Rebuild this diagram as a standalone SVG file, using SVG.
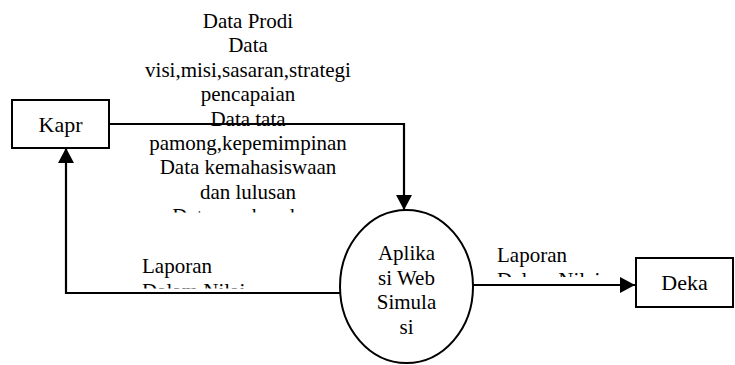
<svg xmlns="http://www.w3.org/2000/svg" width="735" height="365" viewBox="0 0 735 365">
<style>
text{font-family:'Liberation Serif','DejaVu Serif','Noto Serif',serif;fill:#000}
.lbl{font-size:21px;text-anchor:middle}
.lbl-l{font-size:21px}
.box{fill:#fff;stroke:#000;stroke-width:2}
.name{font-size:22px;text-anchor:middle}
.conn{fill:none;stroke:#000;stroke-width:2.2}
</style>
<defs>
<marker id="arr" markerUnits="userSpaceOnUse" markerWidth="16" markerHeight="16" refX="15" refY="8" orient="auto">
<path d="M0,0 L15,8 L0,16 z" fill="#000"/>
</marker>
<clipPath id="clipTop"><rect x="100" y="0" width="320" height="212.5"/></clipPath>
<clipPath id="clipL"><rect x="120" y="240" width="160" height="48.5"/></clipPath>
<clipPath id="clipR"><rect x="480" y="230" width="140" height="47"/></clipPath>
</defs>
<g id="connectors">
<polyline class="conn" points="109,124 404,124 404,210" marker-end="url(#arr)"/>
<polyline class="conn" points="340,293 66,293 66,148" marker-end="url(#arr)"/>
<line class="conn" x1="473" y1="285" x2="635" y2="285" marker-end="url(#arr)"/>
</g>
<g id="label-top" clip-path="url(#clipTop)">
<text class="lbl" x="248" y="28">Data Prodi</text>
<text class="lbl" x="248" y="52.4">Data</text>
<text class="lbl" x="248" y="76.8">visi,misi,sasaran,strategi</text>
<text class="lbl" x="248" y="101.2">pencapaian</text>
<text class="lbl" x="248" y="125.6">Data tata</text>
<text class="lbl" x="248" y="150">pamong,kepemimpinan</text>
<text class="lbl" x="248" y="174.4">Data kemahasiswaan</text>
<text class="lbl" x="248" y="198.8">dan lulusan</text>
<text class="lbl" x="248" y="223.2">Data sumber daya</text>
</g>
<g id="label-left" clip-path="url(#clipL)">
<text class="lbl-l" x="142" y="273">Laporan</text>
<text class="lbl-l" x="142" y="297.5">Dalam Nilai</text>
</g>
<g id="label-right" clip-path="url(#clipR)">
<text class="lbl-l" x="497" y="262">Laporan</text>
<text class="lbl-l" x="497" y="286.5">Dalam Nilai</text>
</g>
<g id="node-kapr">
<rect class="box" x="12" y="100" width="97" height="48"/>
<text class="name" x="60.5" y="131.5">Kapr</text>
</g>
<g id="node-process">
<ellipse class="box" cx="406.5" cy="286.5" rx="66.5" ry="76.5"/>
<text class="lbl" x="406.5" y="260">Aplika</text>
<text class="lbl" x="406.5" y="284.5">si Web</text>
<text class="lbl" x="406.5" y="309">Simula</text>
<text class="lbl" x="406.5" y="333.5">si</text>
</g>
<g id="node-deka">
<rect class="box" x="636" y="258" width="97" height="49"/>
<text class="name" x="684.5" y="290">Deka</text>
</g>
</svg>
